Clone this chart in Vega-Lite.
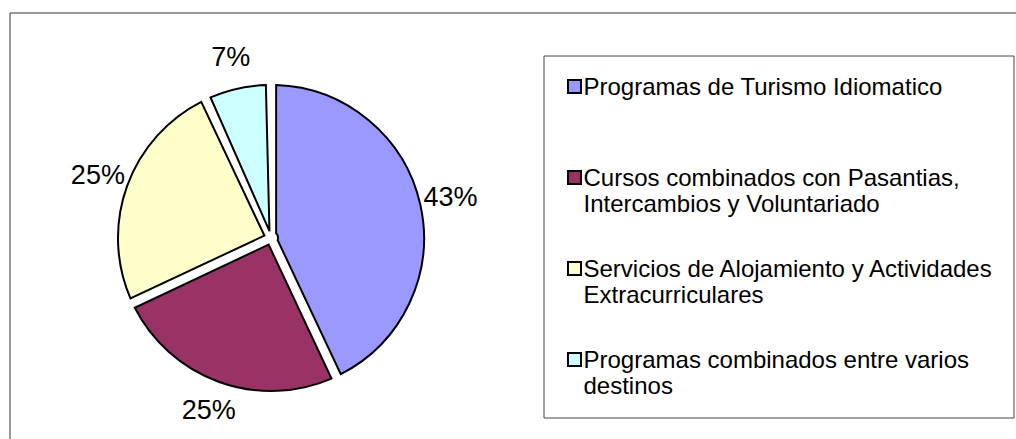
{
  "$schema": "https://vega.github.io/schema/vega-lite/v6.json",
  "width": 1006.5,
  "height": 426.5,
  "autosize": {"type": "none"},
  "padding": {"left": 9.5, "top": 12.5, "right": 0, "bottom": 0},
  "background": "white",
  "view": {"stroke": "#333333", "strokeWidth": 1},
  "config": {"view": {"stroke": "#333333", "strokeWidth": 1}, "font": "Liberation Sans"},
  "data": {
    "values": [
      {"category": "Programas de Turismo Idiomatico", "share": 0.43},
      {"category": "Cursos combinados con Pasantias, Intercambios y Voluntariado", "share": 0.25},
      {"category": "Servicios de Alojamiento y Actividades Extracurriculares", "share": 0.25},
      {"category": "Programas combinados entre varios destinos", "share": 0.07}
    ]
  },
  "transform": [{"window": [{"op": "row_number", "as": "idx"}]}],
  "encoding": {
    "theta": {"field": "share", "type": "quantitative", "stack": true},
    "order": {"field": "idx", "type": "quantitative"}
  },
  "layer": [
    {
      "mark": {"type": "arc", "x": 261.5, "y": 225.5, "outerRadius": 153, "innerRadius": 7, "padAngle": 0.067, "stroke": "black", "strokeWidth": 2},
      "encoding": {
        "color": {
          "field": "category",
          "type": "nominal",
          "scale": {
            "domain": [
              "Programas de Turismo Idiomatico",
              "Cursos combinados con Pasantias, Intercambios y Voluntariado",
              "Servicios de Alojamiento y Actividades Extracurriculares",
              "Programas combinados entre varios destinos"
            ],
            "range": ["#9999FF", "#993366", "#FFFFCC", "#CCFFFF"]
          },
          "legend": {
            "title": null,
            "orient": "none",
            "legendX": 534,
            "legendY": 43,
            "direction": "vertical",
            "symbolType": "square",
            "symbolSize": 169,
            "symbolStrokeColor": "black",
            "symbolStrokeWidth": 2,
            "symbolOpacity": 1,
            "labelFont": "Liberation Sans",
            "labelFontSize": 24,
            "labelColor": "black",
            "labelLimit": 600,
            "labelOffset": -3,
            "labelBaseline": "top",
            "labelExpr": "datum.label == 'Cursos combinados con Pasantias, Intercambios y Voluntariado' ? ['Cursos combinados con Pasantias,', 'Intercambios y Voluntariado'] : datum.label == 'Servicios de Alojamiento y Actividades Extracurriculares' ? ['Servicios de Alojamiento y Actividades', 'Extracurriculares'] : datum.label == 'Programas combinados entre varios destinos' ? ['Programas combinados entre varios', 'destinos'] : datum.label",
            "padding": 19,
            "strokeColor": "#444444",
            "fillColor": "white",
            "cornerRadius": 0,
            "rowPadding": 40,
            "gridAlign": "all",
            "encode": {"labels": {"update": {"dy": {"value": -11}}}}
          }
        }
      }
    },
    {
      "mark": {"type": "text", "x": 261.5, "y": 225.5, "radius": 184, "fontSize": 27, "font": "Liberation Sans", "color": "black"},
      "encoding": {"text": {"field": "share", "type": "quantitative", "format": ".0%"}}
    }
  ]
}
